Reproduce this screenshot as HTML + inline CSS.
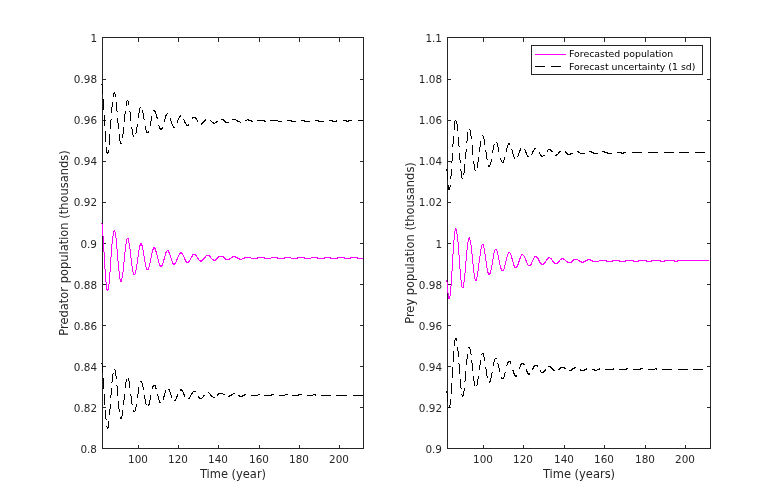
<!DOCTYPE html>
<html lang="en"><head><meta charset="utf-8"><title>Forecast</title>
<style>html,body{margin:0;padding:0;background:#fff;overflow:hidden}svg{display:block}</style></head><body>
<svg width="784" height="504" viewBox="0 0 784 504">
<rect width="784" height="504" fill="#fff"/>
<g shape-rendering="crispEdges" stroke="#262626" stroke-width="1" fill="none">
<rect x="102.5" y="37.5" width="261" height="411"/>
<line x1="138.5" y1="448" x2="138.5" y2="445"/>
<line x1="138.5" y1="38" x2="138.5" y2="42"/>
<line x1="178.5" y1="448" x2="178.5" y2="445"/>
<line x1="178.5" y1="38" x2="178.5" y2="42"/>
<line x1="218.5" y1="448" x2="218.5" y2="445"/>
<line x1="218.5" y1="38" x2="218.5" y2="42"/>
<line x1="259.5" y1="448" x2="259.5" y2="445"/>
<line x1="259.5" y1="38" x2="259.5" y2="42"/>
<line x1="299.5" y1="448" x2="299.5" y2="445"/>
<line x1="299.5" y1="38" x2="299.5" y2="42"/>
<line x1="339.5" y1="448" x2="339.5" y2="445"/>
<line x1="339.5" y1="38" x2="339.5" y2="42"/>
<line x1="103" y1="407.5" x2="106" y2="407.5"/>
<line x1="363" y1="407.5" x2="360" y2="407.5"/>
<line x1="103" y1="366.5" x2="106" y2="366.5"/>
<line x1="363" y1="366.5" x2="360" y2="366.5"/>
<line x1="103" y1="325.5" x2="106" y2="325.5"/>
<line x1="363" y1="325.5" x2="360" y2="325.5"/>
<line x1="103" y1="284.5" x2="106" y2="284.5"/>
<line x1="363" y1="284.5" x2="360" y2="284.5"/>
<line x1="103" y1="243.5" x2="106" y2="243.5"/>
<line x1="363" y1="243.5" x2="360" y2="243.5"/>
<line x1="103" y1="202.5" x2="106" y2="202.5"/>
<line x1="363" y1="202.5" x2="360" y2="202.5"/>
<line x1="103" y1="161.5" x2="106" y2="161.5"/>
<line x1="363" y1="161.5" x2="360" y2="161.5"/>
<line x1="103" y1="120.5" x2="106" y2="120.5"/>
<line x1="363" y1="120.5" x2="360" y2="120.5"/>
<line x1="103" y1="79.5" x2="106" y2="79.5"/>
<line x1="363" y1="79.5" x2="360" y2="79.5"/>
</g>
<g font-family="'DejaVu Sans', 'Liberation Sans', sans-serif" font-size="10.42" fill="#262626">
<text x="138.00" y="463" text-anchor="middle">100</text>
<text x="178.00" y="463" text-anchor="middle">120</text>
<text x="218.00" y="463" text-anchor="middle">140</text>
<text x="259.00" y="463" text-anchor="middle">160</text>
<text x="299.00" y="463" text-anchor="middle">180</text>
<text x="339.00" y="463" text-anchor="middle">200</text>
<text x="97" y="453" text-anchor="end">0.8</text>
<text x="97" y="412" text-anchor="end">0.82</text>
<text x="97" y="371" text-anchor="end">0.84</text>
<text x="97" y="330" text-anchor="end">0.86</text>
<text x="97" y="289" text-anchor="end">0.88</text>
<text x="97" y="248" text-anchor="end">0.9</text>
<text x="97" y="206" text-anchor="end">0.92</text>
<text x="97" y="165" text-anchor="end">0.94</text>
<text x="97" y="124" text-anchor="end">0.96</text>
<text x="97" y="83" text-anchor="end">0.98</text>
<text x="97" y="42" text-anchor="end">1</text>
</g>
<g font-family="'DejaVu Sans', 'Liberation Sans', sans-serif" font-size="11.46" fill="#262626">
<text x="233.0" y="478" text-anchor="middle">Time (year)</text>
<text transform="translate(68.25,243.0) rotate(-90)" text-anchor="middle">Predator population (thousands)</text>
</g>
<g shape-rendering="crispEdges" stroke="#262626" stroke-width="1" fill="none">
<rect x="447.5" y="37.5" width="263" height="411"/>
<line x1="483.5" y1="448" x2="483.5" y2="445"/>
<line x1="483.5" y1="38" x2="483.5" y2="42"/>
<line x1="523.5" y1="448" x2="523.5" y2="445"/>
<line x1="523.5" y1="38" x2="523.5" y2="42"/>
<line x1="564.5" y1="448" x2="564.5" y2="445"/>
<line x1="564.5" y1="38" x2="564.5" y2="42"/>
<line x1="604.5" y1="448" x2="604.5" y2="445"/>
<line x1="604.5" y1="38" x2="604.5" y2="42"/>
<line x1="645.5" y1="448" x2="645.5" y2="445"/>
<line x1="645.5" y1="38" x2="645.5" y2="42"/>
<line x1="685.5" y1="448" x2="685.5" y2="445"/>
<line x1="685.5" y1="38" x2="685.5" y2="42"/>
<line x1="448" y1="407.5" x2="451" y2="407.5"/>
<line x1="710" y1="407.5" x2="707" y2="407.5"/>
<line x1="448" y1="366.5" x2="451" y2="366.5"/>
<line x1="710" y1="366.5" x2="707" y2="366.5"/>
<line x1="448" y1="325.5" x2="451" y2="325.5"/>
<line x1="710" y1="325.5" x2="707" y2="325.5"/>
<line x1="448" y1="284.5" x2="451" y2="284.5"/>
<line x1="710" y1="284.5" x2="707" y2="284.5"/>
<line x1="448" y1="243.5" x2="451" y2="243.5"/>
<line x1="710" y1="243.5" x2="707" y2="243.5"/>
<line x1="448" y1="202.5" x2="451" y2="202.5"/>
<line x1="710" y1="202.5" x2="707" y2="202.5"/>
<line x1="448" y1="161.5" x2="451" y2="161.5"/>
<line x1="710" y1="161.5" x2="707" y2="161.5"/>
<line x1="448" y1="120.5" x2="451" y2="120.5"/>
<line x1="710" y1="120.5" x2="707" y2="120.5"/>
<line x1="448" y1="79.5" x2="451" y2="79.5"/>
<line x1="710" y1="79.5" x2="707" y2="79.5"/>
</g>
<g font-family="'DejaVu Sans', 'Liberation Sans', sans-serif" font-size="10.42" fill="#262626">
<text x="483.00" y="463" text-anchor="middle">100</text>
<text x="523.00" y="463" text-anchor="middle">120</text>
<text x="564.00" y="463" text-anchor="middle">140</text>
<text x="604.00" y="463" text-anchor="middle">160</text>
<text x="645.00" y="463" text-anchor="middle">180</text>
<text x="685.00" y="463" text-anchor="middle">200</text>
<text x="442" y="453" text-anchor="end">0.9</text>
<text x="442" y="412" text-anchor="end">0.92</text>
<text x="442" y="371" text-anchor="end">0.94</text>
<text x="442" y="330" text-anchor="end">0.96</text>
<text x="442" y="289" text-anchor="end">0.98</text>
<text x="442" y="248" text-anchor="end">1</text>
<text x="442" y="206" text-anchor="end">1.02</text>
<text x="442" y="165" text-anchor="end">1.04</text>
<text x="442" y="124" text-anchor="end">1.06</text>
<text x="442" y="83" text-anchor="end">1.08</text>
<text x="442" y="42" text-anchor="end">1.1</text>
</g>
<g font-family="'DejaVu Sans', 'Liberation Sans', sans-serif" font-size="11.46" fill="#262626">
<text x="579.0" y="478" text-anchor="middle">Time (years)</text>
<text transform="translate(413.5,243.0) rotate(-90)" text-anchor="middle">Prey population (thousands)</text>
</g>
<path d="M102 224h1v12h-1zM103 236h1v16h-1zM104 252h1v17h-1zM105 269h1v13h-1zM106 282h1v8h-1zM107 289h1v2h-1zM108 284h1v6h-1zM109 272h1v12h-1zM110 257h1v15h-1zM111 244h1v13h-1zM112 236h1v8h-1zM113 231h1v5h-1zM114 230h1v2h-1zM115 232h1v6h-1zM116 238h1v11h-1zM117 249h1v12h-1zM118 261h1v10h-1zM119 271h1v8h-1zM120 279h1v3h-1zM121 278h1v4h-1zM122 272h1v6h-1zM123 262h1v10h-1zM124 252h1v10h-1zM125 244h1v8h-1zM126 239h1v5h-1zM128 238h1v5h-1zM129 243h1v6h-1zM130 249h1v9h-1zM131 258h1v8h-1zM132 266h1v6h-1zM133 272h1v3h-1zM135 270h1v4h-1zM136 264h1v6h-1zM137 257h1v7h-1zM138 250h1v7h-1zM139 245h1v5h-1zM140 243h1v3h-1zM141 243h1v3h-1zM142 245h1v5h-1zM143 250h1v6h-1zM144 256h1v6h-1zM145 262h1v5h-1zM146 267h1v3h-1zM148 267h1v3h-1zM149 263h1v4h-1zM150 258h1v5h-1zM151 253h1v5h-1zM152 249h1v4h-1zM153 247h1v3h-1zM154 247h1v2h-1zM155 248h1v4h-1zM156 251h1v4h-1zM157 255h1v4h-1zM158 259h1v4h-1zM159 263h1v3h-1zM160 265h1v2h-1zM161 265h1v2h-1zM162 263h1v3h-1zM163 259h1v4h-1zM164 256h1v4h-1zM165 252h1v4h-1zM166 251h1v2h-1zM168 250h1v3h-1zM169 252h1v3h-1zM170 255h1v3h-1zM171 258h1v3h-1zM172 261h1v3h-1zM173 263h1v2h-1zM174 263h1v2h-1zM175 262h1v2h-1zM176 259h1v3h-1zM177 257h1v3h-1zM178 255h1v2h-1zM179 253h1v2h-1zM180 252h1v2h-1zM181 252h1v2h-1zM182 253h1v2h-1zM183 255h1v2h-1zM184 257h1v3h-1zM185 259h1v3h-1zM186 261h1v2h-1zM188 261h1v2h-1zM189 260h1v2h-1zM190 258h1v2h-1zM191 256h1v2h-1zM192 254h1v3h-1zM195 254h1v2h-1zM196 255h1v2h-1zM197 257h1v2h-1zM198 258h1v2h-1zM200 260h1v2h-1zM201 260h1v2h-1zM202 259h1v2h-1zM203 258h1v2h-1zM204 257h1v2h-1zM205 256h1v2h-1zM209 255h1v2h-1zM210 256h1v2h-1zM213 259h1v2h-1zM215 259h1v2h-1zM216 258h1v2h-1zM217 257h1v2h-1zM218 256h1v2h-1zM223 256h1v2h-1zM224 257h1v2h-1zM225 258h1v2h-1zM229 258h1v2h-1zM232 256h1v2h-1zM235 256h1v2h-1zM237 257h1v2h-1zM239 258h1v2h-1zM244 257h1v2h-1zM257 257h1v2h-1zM264 257h1v2h-1zM277 257h1v2h-1zM284 257h1v2h-1zM297 257h1v2h-1zM304 257h1v2h-1zM317 257h1v2h-1zM324 257h1v2h-1zM330 257h1v2h-1zM337 257h1v2h-1zM344 257h1v2h-1zM350 257h1v2h-1zM357 257h1v2h-1zM101 223h1v1h-1zM127 238h1v1h-1zM167 250h1v1h-1zM193 254h2v1h-2zM206 255h3v1h-3zM219 256h4v1h-4zM233 256h2v1h-2zM231 257h1v1h-1zM236 257h1v1h-1zM245 257h6v1h-6zM258 257h6v1h-6zM271 257h6v1h-6zM285 257h6v1h-6zM298 257h6v1h-6zM311 257h6v1h-6zM325 257h5v1h-5zM338 257h6v1h-6zM351 257h6v1h-6zM211 258h1v1h-1zM230 258h1v1h-1zM238 258h1v1h-1zM242 258h2v1h-2zM251 258h6v1h-6zM265 258h6v1h-6zM278 258h6v1h-6zM291 258h6v1h-6zM305 258h6v1h-6zM318 258h6v1h-6zM331 258h6v1h-6zM345 258h5v1h-5zM358 258h5v1h-5zM212 259h1v1h-1zM226 259h3v1h-3zM240 259h2v1h-2zM199 260h1v1h-1zM214 260h1v1h-1zM187 262h1v1h-1zM147 269h1v1h-1zM134 274h1v1h-1z" fill="#ff00ff" shape-rendering="crispEdges"/>
<path d="M102 85h1v9h-1zM103 99h1v11h-1zM104 115h1v11h-1zM105 131h1v11h-1zM106 147h1v6h-1zM107 152h1v2h-1zM108 150h1v3h-1zM109 134h1v11h-1zM110 120h1v9h-1zM111 107h1v6h-1zM112 102h1v5h-1zM113 93h1v4h-1zM114 92h1v2h-1zM115 94h1v3h-1zM116 102h1v9h-1zM117 118h1v5h-1zM118 123h1v6h-1zM119 134h1v7h-1zM120 141h1v3h-1zM122 134h1v4h-1zM123 127h1v7h-1zM124 114h1v8h-1zM125 111h1v3h-1zM126 101h1v5h-1zM128 101h1v4h-1zM130 112h1v9h-1zM131 127h1v2h-1zM132 129h1v6h-1zM133 135h1v2h-1zM136 127h1v6h-1zM137 124h1v3h-1zM138 113h1v5h-1zM139 108h1v5h-1zM142 110h1v3h-1zM143 113h1v6h-1zM145 126h1v4h-1zM146 130h1v3h-1zM148 131h1v2h-1zM150 121h1v5h-1zM151 116h1v5h-1zM154 110h1v2h-1zM155 111h1v3h-1zM156 114h1v4h-1zM157 117h1v2h-1zM159 126h1v3h-1zM160 128h1v2h-1zM161 128h1v2h-1zM162 127h1v2h-1zM164 119h1v3h-1zM165 115h1v4h-1zM166 114h1v2h-1zM170 118h1v3h-1zM171 121h1v3h-1zM172 124h1v2h-1zM173 126h1v2h-1zM177 120h1v3h-1zM178 118h1v2h-1zM179 116h1v2h-1zM180 115h1v2h-1zM184 120h1v3h-1zM185 122h1v2h-1zM186 124h1v2h-1zM188 124h1v2h-1zM192 117h1v2h-1zM195 117h1v2h-1zM196 118h1v2h-1zM197 120h1v2h-1zM201 123h1v2h-1zM202 122h1v2h-1zM203 121h1v2h-1zM204 120h1v2h-1zM205 119h1v2h-1zM213 122h1v2h-1zM216 121h1v2h-1zM223 119h1v2h-1zM224 120h1v2h-1zM225 121h1v2h-1zM237 120h1v2h-1zM248 119h1v2h-1zM251 120h1v2h-1zM264 120h1v2h-1zM291 120h1v2h-1zM304 120h1v2h-1zM318 120h1v2h-1zM332 120h1v2h-1zM336 120h1v2h-1zM346 120h1v2h-1zM348 120h1v2h-1zM101 84h1v1h-1zM127 100h1v1h-1zM140 107h1v1h-1zM153 110h1v1h-1zM117 111h1v1h-1zM129 111h1v1h-1zM167 113h1v1h-1zM193 117h2v1h-2zM111 119h1v1h-1zM144 119h1v1h-1zM183 119h1v1h-1zM221 119h2v1h-2zM232 119h4v1h-4zM247 119h1v1h-1zM210 120h1v1h-1zM236 120h1v1h-1zM245 120h2v1h-2zM249 120h2v1h-2zM257 120h7v1h-7zM270 120h8v1h-8zM287 120h4v1h-4zM301 120h3v1h-3zM315 120h3v1h-3zM329 120h3v1h-3zM343 120h3v1h-3zM349 120h3v1h-3zM358 120h5v1h-5zM211 121h1v1h-1zM217 121h1v1h-1zM238 121h2v1h-2zM252 121h1v1h-1zM265 121h1v1h-1zM278 121h4v1h-4zM292 121h4v1h-4zM305 121h5v1h-5zM319 121h5v1h-5zM333 121h3v1h-3zM347 121h1v1h-1zM212 122h1v1h-1zM215 122h1v1h-1zM226 122h3v1h-3zM240 122h1v1h-1zM214 123h1v1h-1zM158 125h1v1h-1zM187 125h1v1h-1zM174 127h1v1h-1zM147 132h1v1h-1zM135 133h1v1h-1zM121 143h1v1h-1z" fill="#000" shape-rendering="crispEdges"/>
<path d="M102 364h1v9h-1zM103 378h1v11h-1zM104 394h1v11h-1zM105 410h1v9h-1zM107 427h1v2h-1zM108 421h1v7h-1zM109 409h1v6h-1zM110 395h1v3h-1zM110 404h1v5h-1zM111 388h1v7h-1zM112 374h1v8h-1zM115 370h1v6h-1zM116 376h1v3h-1zM117 386h1v10h-1zM118 401h1v8h-1zM119 409h1v3h-1zM120 417h1v2h-1zM121 416h1v3h-1zM122 410h1v6h-1zM123 400h1v5h-1zM124 394h1v6h-1zM125 382h1v6h-1zM126 379h1v3h-1zM128 378h1v3h-1zM129 381h1v7h-1zM130 394h1v2h-1zM131 396h1v8h-1zM133 410h1v2h-1zM135 407h1v4h-1zM136 404h1v3h-1zM137 394h1v4h-1zM138 387h1v7h-1zM141 381h1v2h-1zM142 383h1v4h-1zM143 387h1v3h-1zM144 395h1v4h-1zM145 399h1v5h-1zM148 404h1v2h-1zM149 400h1v5h-1zM150 395h1v5h-1zM152 386h1v3h-1zM153 385h1v2h-1zM155 385h1v4h-1zM157 394h1v2h-1zM158 396h1v4h-1zM159 400h1v3h-1zM163 396h1v4h-1zM164 393h1v4h-1zM165 390h1v3h-1zM169 389h1v3h-1zM170 392h1v3h-1zM171 395h1v3h-1zM175 399h1v2h-1zM176 396h1v3h-1zM177 394h1v3h-1zM180 389h1v2h-1zM181 389h1v2h-1zM182 390h1v2h-1zM183 392h1v3h-1zM184 394h1v3h-1zM189 397h1v2h-1zM190 395h1v2h-1zM191 393h1v2h-1zM192 392h1v2h-1zM198 396h1v2h-1zM199 397h1v2h-1zM203 395h1v2h-1zM210 394h1v2h-1zM211 395h1v2h-1zM217 394h1v2h-1zM218 393h1v2h-1zM229 395h1v2h-1zM231 394h1v2h-1zM239 395h1v2h-1zM242 395h1v2h-1zM244 394h1v2h-1zM271 394h1v2h-1zM298 394h1v2h-1zM315 394h1v2h-1zM101 363h1v1h-1zM114 369h1v1h-1zM113 373h1v1h-1zM140 381h1v1h-1zM111 382h1v1h-1zM116 385h1v1h-1zM154 385h1v1h-1zM156 388h1v1h-1zM168 389h1v1h-1zM193 391h3v1h-3zM208 392h1v1h-1zM209 393h1v1h-1zM219 393h4v1h-4zM233 393h2v1h-2zM223 394h2v1h-2zM232 394h1v1h-1zM245 394h1v1h-1zM258 394h2v1h-2zM272 394h2v1h-2zM285 394h3v1h-3zM299 394h3v1h-3zM313 394h2v1h-2zM204 395h1v1h-1zM230 395h1v1h-1zM238 395h1v1h-1zM243 395h1v1h-1zM251 395h7v1h-7zM264 395h7v1h-7zM279 395h6v1h-6zM292 395h6v1h-6zM307 395h6v1h-6zM321 395h10v1h-10zM336 395h11v1h-11zM353 395h10v1h-10zM212 396h1v1h-1zM228 396h1v1h-1zM240 396h2v1h-2zM202 397h1v1h-1zM213 397h2v1h-2zM188 398h1v1h-1zM200 398h2v1h-2zM174 400h1v1h-1zM160 402h1v1h-1zM132 404h1v1h-1zM146 404h1v1h-1zM134 411h1v1h-1zM106 419h1v1h-1zM106 426h1v1h-1z" fill="#000" shape-rendering="crispEdges"/>
<path d="M446 280h1v2h-1zM447 282h1v11h-1zM448 293h1v6h-1zM449 296h1v3h-1zM450 286h1v10h-1zM451 271h1v15h-1zM452 254h1v17h-1zM453 240h1v14h-1zM454 231h1v9h-1zM455 228h1v3h-1zM456 229h1v5h-1zM457 234h1v8h-1zM458 242h1v13h-1zM459 255h1v14h-1zM460 269h1v11h-1zM461 280h1v7h-1zM463 282h1v6h-1zM464 273h1v9h-1zM465 261h1v12h-1zM466 250h1v11h-1zM467 242h1v8h-1zM468 238h1v4h-1zM469 237h1v3h-1zM470 240h1v5h-1zM471 245h1v9h-1zM472 254h1v10h-1zM473 264h1v9h-1zM474 273h1v6h-1zM475 279h1v2h-1zM476 277h1v4h-1zM477 271h1v6h-1zM478 263h1v8h-1zM479 256h1v7h-1zM480 249h1v7h-1zM481 245h1v4h-1zM483 244h1v4h-1zM484 248h1v6h-1zM485 254h1v7h-1zM486 261h1v7h-1zM487 268h1v5h-1zM488 272h1v3h-1zM489 273h1v2h-1zM490 270h1v4h-1zM491 265h1v5h-1zM492 259h1v6h-1zM493 253h1v6h-1zM494 250h1v3h-1zM496 249h1v2h-1zM497 251h1v4h-1zM498 255h1v5h-1zM499 260h1v5h-1zM500 265h1v4h-1zM501 268h1v3h-1zM503 269h1v2h-1zM504 265h1v4h-1zM505 261h1v4h-1zM506 257h1v4h-1zM507 254h1v3h-1zM508 252h1v2h-1zM510 253h1v2h-1zM511 255h1v4h-1zM512 258h1v4h-1zM513 262h1v4h-1zM514 265h1v3h-1zM516 266h1v2h-1zM517 264h1v3h-1zM518 261h1v4h-1zM519 258h1v4h-1zM520 256h1v3h-1zM521 254h1v2h-1zM524 256h1v2h-1zM525 258h1v3h-1zM526 260h1v3h-1zM527 263h1v2h-1zM530 264h1v2h-1zM531 262h1v3h-1zM532 260h1v2h-1zM533 258h1v2h-1zM534 256h1v2h-1zM536 256h1v2h-1zM537 257h1v2h-1zM538 258h1v3h-1zM539 260h1v3h-1zM540 262h1v2h-1zM541 263h1v2h-1zM543 263h1v2h-1zM544 262h1v2h-1zM545 261h1v2h-1zM546 259h1v2h-1zM547 258h1v2h-1zM548 257h1v2h-1zM551 258h1v2h-1zM552 260h1v2h-1zM553 261h1v2h-1zM554 262h1v2h-1zM557 262h1v2h-1zM558 261h1v2h-1zM559 260h1v2h-1zM561 258h1v2h-1zM563 258h1v2h-1zM567 261h1v2h-1zM571 261h1v2h-1zM572 260h1v2h-1zM573 259h1v2h-1zM579 260h1v2h-1zM581 261h1v2h-1zM583 261h1v2h-1zM585 260h1v2h-1zM587 259h1v2h-1zM590 259h1v2h-1zM592 260h1v2h-1zM606 260h1v2h-1zM612 260h1v2h-1zM619 260h1v2h-1zM625 260h1v2h-1zM633 260h1v2h-1zM638 260h1v2h-1zM646 260h1v2h-1zM651 260h1v2h-1zM660 260h1v2h-1zM664 260h1v2h-1zM674 260h1v2h-1zM677 260h1v2h-1zM482 244h1v1h-1zM495 249h1v1h-1zM509 252h1v1h-1zM522 254h1v1h-1zM523 255h1v1h-1zM535 256h1v1h-1zM549 257h1v1h-1zM550 258h1v1h-1zM562 258h1v1h-1zM560 259h1v1h-1zM564 259h1v1h-1zM574 259h4v1h-4zM588 259h2v1h-2zM565 260h1v1h-1zM578 260h1v1h-1zM586 260h1v1h-1zM591 260h1v1h-1zM599 260h7v1h-7zM613 260h6v1h-6zM626 260h7v1h-7zM639 260h7v1h-7zM652 260h8v1h-8zM665 260h9v1h-9zM678 260h31v1h-31zM566 261h1v1h-1zM580 261h1v1h-1zM584 261h1v1h-1zM593 261h6v1h-6zM607 261h5v1h-5zM620 261h5v1h-5zM634 261h4v1h-4zM647 261h4v1h-4zM661 261h3v1h-3zM675 261h2v1h-2zM568 262h3v1h-3zM582 262h1v1h-1zM555 263h2v1h-2zM542 264h1v1h-1zM528 265h2v1h-2zM515 267h1v1h-1zM502 270h1v1h-1zM462 287h1v1h-1z" fill="#ff00ff" shape-rendering="crispEdges"/>
<path d="M446 169h1v2h-1zM447 171h1v9h-1zM448 185h1v5h-1zM449 187h1v3h-1zM450 176h1v3h-1zM450 185h1v2h-1zM451 161h1v2h-1zM451 169h1v7h-1zM452 144h1v3h-1zM452 153h1v8h-1zM453 136h1v8h-1zM454 121h1v9h-1zM456 121h1v3h-1zM457 124h1v7h-1zM458 137h1v9h-1zM459 153h1v7h-1zM460 160h1v3h-1zM460 169h1v2h-1zM461 171h1v7h-1zM463 173h1v2h-1zM464 164h1v9h-1zM465 152h1v7h-1zM466 141h1v2h-1zM466 149h1v3h-1zM467 132h1v9h-1zM470 130h1v6h-1zM471 136h1v3h-1zM472 145h1v10h-1zM473 161h1v3h-1zM474 164h1v6h-1zM477 162h1v6h-1zM478 157h1v5h-1zM479 147h1v5h-1zM480 141h1v6h-1zM483 136h1v3h-1zM484 139h1v6h-1zM485 150h1v2h-1zM486 152h1v7h-1zM488 165h1v2h-1zM489 165h1v2h-1zM490 162h1v3h-1zM491 159h1v3h-1zM492 150h1v3h-1zM493 145h1v5h-1zM497 143h1v4h-1zM498 147h1v5h-1zM500 158h1v2h-1zM501 160h1v2h-1zM503 160h1v3h-1zM504 157h1v3h-1zM506 148h1v4h-1zM507 145h1v3h-1zM508 143h1v2h-1zM509 143h1v2h-1zM512 150h1v4h-1zM513 154h1v3h-1zM514 157h1v2h-1zM518 153h1v3h-1zM519 150h1v3h-1zM520 148h1v3h-1zM525 150h1v3h-1zM526 152h1v3h-1zM527 155h1v2h-1zM532 151h1v3h-1zM533 150h1v2h-1zM534 148h1v2h-1zM539 152h1v2h-1zM540 154h1v2h-1zM541 155h1v2h-1zM547 150h1v2h-1zM550 149h1v2h-1zM551 150h1v2h-1zM556 154h1v2h-1zM558 152h1v2h-1zM559 151h1v2h-1zM565 151h1v2h-1zM566 152h1v2h-1zM567 153h1v2h-1zM570 153h1v2h-1zM578 151h1v2h-1zM591 151h1v2h-1zM593 152h1v2h-1zM604 151h1v2h-1zM607 152h1v2h-1zM621 152h1v2h-1zM623 152h1v2h-1zM455 120h1v1h-1zM469 129h1v1h-1zM482 135h1v1h-1zM496 142h1v1h-1zM494 144h1v1h-1zM459 146h1v1h-1zM535 148h1v1h-1zM511 149h1v1h-1zM524 149h1v1h-1zM548 149h2v1h-2zM552 151h1v1h-1zM560 151h1v1h-1zM577 151h1v1h-1zM589 151h2v1h-2zM602 151h2v1h-2zM579 152h1v1h-1zM592 152h1v1h-1zM605 152h2v1h-2zM617 152h4v1h-4zM624 152h2v1h-2zM632 152h10v1h-10zM648 152h10v1h-10zM664 152h10v1h-10zM679 152h10v1h-10zM695 152h10v1h-10zM571 153h2v1h-2zM580 153h5v1h-5zM594 153h4v1h-4zM608 153h4v1h-4zM622 153h1v1h-1zM531 154h1v1h-1zM557 154h1v1h-1zM568 154h2v1h-2zM543 155h2v1h-2zM555 155h1v1h-1zM517 156h1v1h-1zM528 156h1v1h-1zM542 156h1v1h-1zM487 159h1v1h-1zM502 162h1v1h-1zM475 170h1v1h-1zM462 178h1v1h-1z" fill="#000" shape-rendering="crispEdges"/>
<path d="M446 391h1v2h-1zM447 393h1v9h-1zM449 405h1v3h-1zM450 399h1v6h-1zM451 383h1v11h-1zM452 367h1v11h-1zM453 351h1v11h-1zM454 340h1v6h-1zM455 338h1v2h-1zM456 338h1v3h-1zM457 347h1v4h-1zM458 351h1v6h-1zM459 364h1v10h-1zM460 379h1v9h-1zM462 395h1v2h-1zM463 391h1v5h-1zM464 388h1v3h-1zM465 371h1v10h-1zM466 359h1v6h-1zM467 354h1v5h-1zM469 347h1v2h-1zM470 349h1v5h-1zM471 360h1v3h-1zM472 363h1v8h-1zM473 376h1v5h-1zM474 381h1v5h-1zM477 379h1v6h-1zM478 376h1v3h-1zM479 365h1v5h-1zM480 360h1v5h-1zM483 353h1v4h-1zM484 357h1v4h-1zM485 367h1v2h-1zM486 369h1v7h-1zM487 376h1v2h-1zM489 381h1v2h-1zM490 378h1v4h-1zM491 373h1v5h-1zM493 362h1v4h-1zM494 359h1v3h-1zM498 364h1v4h-1zM499 368h1v4h-1zM501 377h1v2h-1zM503 377h1v2h-1zM504 373h1v4h-1zM507 362h1v3h-1zM508 361h1v2h-1zM510 361h1v3h-1zM513 370h1v4h-1zM514 373h1v3h-1zM515 375h1v2h-1zM516 375h1v2h-1zM519 367h1v2h-1zM520 364h1v3h-1zM521 363h1v2h-1zM523 363h1v2h-1zM526 369h1v3h-1zM527 371h1v3h-1zM528 373h1v2h-1zM529 373h1v2h-1zM532 368h1v2h-1zM533 366h1v3h-1zM534 365h1v2h-1zM537 365h1v2h-1zM540 370h1v2h-1zM543 371h1v2h-1zM544 370h1v2h-1zM545 369h1v2h-1zM550 366h1v2h-1zM551 367h1v2h-1zM552 368h1v2h-1zM553 369h1v2h-1zM559 368h1v2h-1zM560 367h1v2h-1zM564 367h1v2h-1zM571 369h1v2h-1zM572 368h1v2h-1zM574 367h1v2h-1zM580 369h1v2h-1zM584 369h1v2h-1zM586 368h1v2h-1zM594 369h1v2h-1zM599 368h1v2h-1zM613 368h1v2h-1zM626 368h1v2h-1zM640 368h1v2h-1zM656 368h1v2h-1zM468 347h1v1h-1zM482 353h1v1h-1zM471 354h1v1h-1zM481 354h1v1h-1zM495 358h2v1h-2zM509 361h1v1h-1zM458 363h1v1h-1zM497 363h1v1h-1zM522 363h1v1h-1zM524 364h1v1h-1zM506 365h1v1h-1zM535 365h2v1h-2zM548 366h2v1h-2zM561 367h3v1h-3zM575 367h1v1h-1zM565 368h1v1h-1zM573 368h1v1h-1zM627 368h1v1h-1zM641 368h2v1h-2zM655 368h1v1h-1zM558 369h1v1h-1zM585 369h1v1h-1zM592 369h2v1h-2zM597 369h2v1h-2zM605 369h8v1h-8zM619 369h7v1h-7zM633 369h7v1h-7zM648 369h7v1h-7zM662 369h10v1h-10zM678 369h10v1h-10zM693 369h10v1h-10zM512 370h1v1h-1zM554 370h1v1h-1zM569 370h2v1h-2zM581 370h3v1h-3zM595 370h2v1h-2zM492 372h1v1h-1zM505 372h1v1h-1zM541 372h2v1h-2zM502 378h1v1h-1zM464 381h1v1h-1zM476 385h1v1h-1zM461 388h1v1h-1zM461 394h1v1h-1zM448 407h1v1h-1z" fill="#000" shape-rendering="crispEdges"/>
<rect x="531.5" y="45.5" width="171" height="29" fill="#fff" stroke="#262626" stroke-width="1" shape-rendering="crispEdges"/>
<line x1="535" y1="54.5" x2="566" y2="54.5" stroke="#ff00ff" stroke-width="1" shape-rendering="crispEdges"/>
<line x1="535" y1="66.5" x2="566" y2="66.5" stroke="#000" stroke-width="1" stroke-dasharray="10 6" shape-rendering="crispEdges"/>
<g font-family="'DejaVu Sans', 'Liberation Sans', sans-serif" font-size="9.375" fill="#000">
<text x="569" y="57">Forecasted population</text>
<text x="569" y="70">Forecast uncertainty (1 sd)</text>
</g>
</svg></body></html>
